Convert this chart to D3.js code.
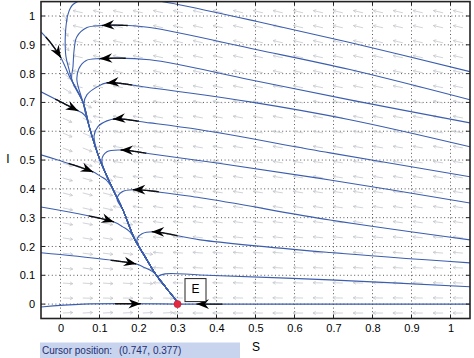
<!DOCTYPE html>
<html><head><meta charset="utf-8">
<script src="https://cdn.jsdelivr.net/npm/d3@7"></script>
<style>
body{margin:0;background:#fff}
svg{display:block}
text{font-family:"Liberation Sans",Arial,Helvetica,sans-serif}
</style>
</head><body>
<svg id="c" width="474" height="358"></svg>
<script>
// ---------- data ----------
const xTicks = [0,0.1,0.2,0.3,0.4,0.5,0.6,0.7,0.8,0.9,1];
const xTickLabels = ["0","0.1","0.2","0.3","0.4","0.5","0.6","0.7","0.8","0.9","1"];
const yTicks = [0,0.1,0.2,0.3,0.4,0.5,0.6,0.7,0.8,0.9,1];
const yTickLabels = ["0","0.1","0.2","0.3","0.4","0.5","0.6","0.7","0.8","0.9","1"];
const xLabel = "S", yLabel = "I";
const equilibrium = [0.3, 0];
const equilibriumLabel = "E";
const cursorLabel = "Cursor position:";
const cursorValue = "(0.747, 0.377)";

// slow curve all trajectories collapse onto (S, I), ending at E
const slowCurve = [[0.058,1.057],[0.032,1.040],[0.019,1.005],[0.014,0.963],[0.012,0.918],[0.014,0.859],[0.022,0.814],[0.029,0.779],[0.058,0.699],[0.076,0.605],[0.101,0.501],[0.135,0.397],[0.160,0.327],[0.191,0.223],[0.217,0.164],[0.242,0.108],[0.271,0.056],[0.299,0.007],[0.300,0.000]];

// trajectories entering from the right (S, I)
const trajR1 = [[1.050,0.807],[0.742,0.908],[0.504,0.981],[0.301,1.040],[0.229,1.057],[0.153,1.074],[0.094,1.071]];
const trajR2 = [[1.050,0.709],[0.742,0.814],[0.504,0.883],[0.229,0.960],[0.153,0.968],[0.106,0.967],[0.068,0.960],[0.042,0.928],[0.035,0.883],[0.032,0.824]];
const trajR3 = [[1.050,0.629],[0.742,0.709],[0.486,0.779],[0.229,0.848],[0.101,0.852],[0.065,0.845],[0.047,0.817],[0.042,0.779]];
const trajR4 = [[1.050,0.546],[0.742,0.640],[0.486,0.702],[0.229,0.751],[0.119,0.768],[0.094,0.754],[0.068,0.727],[0.060,0.696]];
const trajR5 = [[1.050,0.442],[0.691,0.525],[0.358,0.605],[0.229,0.629],[0.142,0.643],[0.119,0.636],[0.096,0.616],[0.086,0.584]];
const trajR6 = [[1.050,0.351],[0.691,0.431],[0.401,0.490],[0.229,0.522],[0.155,0.535],[0.119,0.529],[0.106,0.501]];
const trajR7 = [[1.050,0.223],[0.691,0.292],[0.358,0.369],[0.186,0.397],[0.158,0.390],[0.145,0.365]];
const trajR8 = [[1.050,0.143],[0.691,0.179],[0.358,0.223],[0.237,0.251],[0.209,0.244],[0.196,0.223]];
const trajR9 = [[1.050,0.060],[0.691,0.084],[0.358,0.101],[0.268,0.105],[0.250,0.094]];
const trajR10 = [[1.050,0.000],[0.300,0.000]];
// trajectories entering from the left (S, I)
const trajL1 = [[-0.050,0.945],[-0.027,0.910],[0.001,0.855],[0.012,0.824],[0.022,0.793]];
const trajL2 = [[-0.050,0.737],[0.045,0.671],[0.055,0.664],[0.065,0.650]];
const trajL3 = [[-0.050,0.518],[-0.009,0.501],[0.083,0.459],[0.101,0.445],[0.117,0.431]];
const trajL4 = [[-0.050,0.337],[0.137,0.285],[0.160,0.268],[0.178,0.251]];
const trajL5 = [[-0.050,0.178],[0.194,0.139],[0.212,0.129],[0.237,0.112]];
const trajL6 = [[-0.050,-0.010],[0.058,0.000],[0.300,0.000]];

// direction arrows on trajectories: [trajectory, S of arrow tip]
const arrowTips = [["R2",0.106],["R3",0.101],["R4",0.119],["R5",0.135],["R6",0.155],["R7",0.186],["R8",0.235],["R10",0.350],
                   ["L1",0.001],["L2",0.045],["L3",0.083],["L4",0.137],["L5",0.194],["L6",0.206]];

// direction field grid
const fieldS = [0.006,0.057,0.109,0.160,0.211,0.263,0.314,0.365,0.416,0.468,0.519,0.570,0.622,0.673,0.724,0.776,0.827,0.878,0.929,0.981,1.032];
const fieldI = [1.011,0.959,0.907,0.855,0.803,0.751,0.698,0.646,0.594,0.542,0.490,0.438,0.386,0.334,0.282,0.230,0.177,0.125,0.073,0.021,-0.031];
// per-row tilt of the field arrows (rise per run), right of / left of the slow curve
const fieldTiltLeftward = [0.235,0.23,0.225,0.22,0.21,0.2,0.19,0.185,0.18,0.175,0.17,0.165,0.16,0.155,0.14,0.11,0.08,0.06,0.04,0.02,0];
const fieldTiltRightward = [2.0,1.6,1.3,1.0,0.8,0.65,0.55,0.48,0.43,0.38,0.34,0.3,0.26,0.22,0.19,0.16,0.13,0.1,0.06,0.02,-0.05];

const trajectories = {R1:trajR1,R2:trajR2,R3:trajR3,R4:trajR4,R5:trajR5,R6:trajR6,R7:trajR7,R8:trajR8,R9:trajR9,R10:trajR10,
                      L1:trajL1,L2:trajL2,L3:trajL3,L4:trajL4,L5:trajL5,L6:trajL6};

// ---------- drawing ----------
const svg = d3.select("#c");
const x = d3.scaleLinear().domain([-0.05,1.05]).range([41,470]);
const y = d3.scaleLinear().domain([-0.05,1.05]).range([318.5,1.6]);
const X0 = x.range()[0], X1 = x.range()[1], Y0 = y.range()[1], Y1 = y.range()[0];

svg.append("defs").append("clipPath").attr("id","clip")
  .append("rect").attr("x",X0).attr("y",Y0).attr("width",X1-X0).attr("height",Y1-Y0);

svg.append("rect").attr("x",X0).attr("y",Y0).attr("width",X1-X0).attr("height",Y1-Y0).attr("fill","#fff");

// grid
const grid = svg.append("g").attr("stroke","#444").attr("stroke-width",0.9).attr("stroke-dasharray","1,2.6");
xTicks.forEach(t=>grid.append("line").attr("x1",x(t)).attr("x2",x(t)).attr("y1",Y0).attr("y2",Y1));
yTicks.forEach(t=>grid.append("line").attr("y1",y(t)).attr("y2",y(t)).attr("x1",X0).attr("x2",X1));

// direction field
const slowS = d3.scaleLinear().domain(slowCurve.map(p=>p[1])).range(slowCurve.map(p=>p[0])).clamp(true);
const field = svg.append("g").attr("clip-path","url(#clip)").attr("stroke","#c2c4ca").attr("stroke-width",0.75).attr("fill","none");
const aLen = 10, hLen = 3.2;
fieldI.forEach((iv,r)=>{
  fieldS.forEach(sv=>{
    const rightward = sv < slowS(iv);
    let dx, dy;
    if (rightward) { dx = 1; dy = fieldTiltRightward[r]; } else { dx = -1; dy = -fieldTiltLeftward[r]; }
    const n = Math.hypot(dx,dy); dx/=n; dy/=n;
    const px = x(sv), py = y(iv);
    const tx = px + dx*aLen, ty = py + dy*aLen;
    const ang = Math.atan2(dy,dx);
    const a1 = ang + Math.PI - 0.5, a2 = ang + Math.PI + 0.5;
    field.append("path").attr("d",
      `M${px},${py}L${tx},${ty}M${tx+hLen*Math.cos(a1)},${ty+hLen*Math.sin(a1)}L${tx},${ty}L${tx+hLen*Math.cos(a2)},${ty+hLen*Math.sin(a2)}`);
  });
});

// trajectories
const line = d3.line().x(d=>x(d[0])).y(d=>y(d[1])).curve(d3.curveCatmullRom.alpha(0.5));
function fullPath(own){
  const last = own[own.length-1];
  return own.concat(slowCurve.filter(p=>p[1] < last[1]-0.02));
}
const trajG = svg.append("g").attr("clip-path","url(#clip)");
const nodes = {};
Object.entries(trajectories).forEach(([name,own])=>{
  nodes[name] = trajG.append("path").attr("d",line(fullPath(own)))
    .attr("fill","none").attr("stroke","#3c5eae").attr("stroke-width",1.1).node();
});

// black arrows on trajectories
const arrG = svg.append("g").attr("clip-path","url(#clip)");
arrowTips.forEach(([name,s])=>{
  const node = nodes[name], total = node.getTotalLength(), tx = x(s);
  let prev = node.getPointAtLength(0), found = null;
  for (let l=0.5; l<=total; l+=0.5){
    const pt = node.getPointAtLength(l);
    if ((prev.x-tx)*(pt.x-tx) <= 0){ found = l; break; }
    prev = pt;
  }
  if (found===null) return;
  const seg = [];
  for (let l=Math.max(0,found-26); l<=found; l+=1){ const p=node.getPointAtLength(l); seg.push([p.x,p.y]); }
  arrG.append("path").attr("d",d3.line()(seg)).attr("fill","none").attr("stroke","#111").attr("stroke-width",1.4);
  const tip = node.getPointAtLength(found), back = node.getPointAtLength(Math.max(0,found-3));
  const ang = Math.atan2(tip.y-back.y, tip.x-back.x);
  const L=12.5, Wd=4.8, notch=8.5;
  const c=Math.cos(ang), sn=Math.sin(ang);
  const P = (u,v)=>[tip.x + u*c - v*sn, tip.y + u*sn + v*c];
  const pts=[P(0,0),P(-L,-Wd),P(-notch,0),P(-L,Wd)];
  arrG.append("path").attr("d","M"+pts.map(p=>p.join(",")).join("L")+"Z").attr("fill","#000");
});

// frame + ticks
const frame = svg.append("g").attr("stroke","#222").attr("stroke-width",1);
const tk = 4;
xTicks.forEach(t=>{
  frame.append("line").attr("x1",x(t)).attr("x2",x(t)).attr("y1",Y1).attr("y2",Y1-tk);
  frame.append("line").attr("x1",x(t)).attr("x2",x(t)).attr("y1",Y0).attr("y2",Y0+tk);
});
yTicks.forEach(t=>{
  frame.append("line").attr("y1",y(t)).attr("y2",y(t)).attr("x1",X0).attr("x2",X0+tk);
  frame.append("line").attr("y1",y(t)).attr("y2",y(t)).attr("x1",X1).attr("x2",X1-tk);
});
svg.append("rect").attr("x",X0).attr("y",Y0).attr("width",X1-X0).attr("height",Y1-Y0)
  .attr("fill","none").attr("stroke","#222").attr("stroke-width",1.6);

// axes labels via d3 axes
const ax = svg.append("g").attr("transform",`translate(0,${Y1})`)
  .call(d3.axisBottom(x).tickValues(xTicks).tickFormat((d,i)=>xTickLabels[i]).tickSize(0).tickPadding(5.5));
ax.select(".domain").remove();
ax.selectAll("text").attr("font-size",11).attr("fill","#000").style("font-family","'Liberation Sans',Arial,sans-serif");
const ay = svg.append("g").attr("transform",`translate(${X0},0)`)
  .call(d3.axisLeft(y).tickValues(yTicks).tickFormat((d,i)=>yTickLabels[i]).tickSize(0).tickPadding(6));
ay.select(".domain").remove();
ay.selectAll("text").attr("font-size",11).attr("fill","#000").style("font-family","'Liberation Sans',Arial,sans-serif");

svg.append("text").attr("x",(X0+X1)/2+0.5).attr("y",351).attr("text-anchor","middle").attr("font-size",12).text(xLabel);
svg.append("text").attr("x",8).attr("y",163).attr("text-anchor","middle").attr("font-size",12).text(yLabel);

// equilibrium marker
const ex = x(equilibrium[0]), ey = y(equilibrium[1]);
svg.append("rect").attr("x",ex+7.5).attr("y",ey-25.5).attr("width",21).attr("height",23)
  .attr("fill","#fff").attr("stroke","#222").attr("stroke-width",1);
svg.append("text").attr("x",ex+18).attr("y",ey-10.8).attr("text-anchor","middle").attr("font-size",12).text(equilibriumLabel);
svg.append("circle").attr("cx",ex).attr("cy",ey).attr("r",3.6).attr("fill","#e3283f").attr("stroke","#b01830").attr("stroke-width",0.5);

// cursor position bar
svg.append("rect").attr("x",40).attr("y",342.5).attr("width",200).attr("height",16).attr("fill","#c8d3ee");
svg.append("text").attr("x",42).attr("y",354).attr("font-size",10).attr("fill","#1d2f6e").text(cursorLabel);
svg.append("text").attr("x",119).attr("y",354).attr("font-size",10).attr("fill","#1d2f6e").text(cursorValue);
</script>
</body></html>
